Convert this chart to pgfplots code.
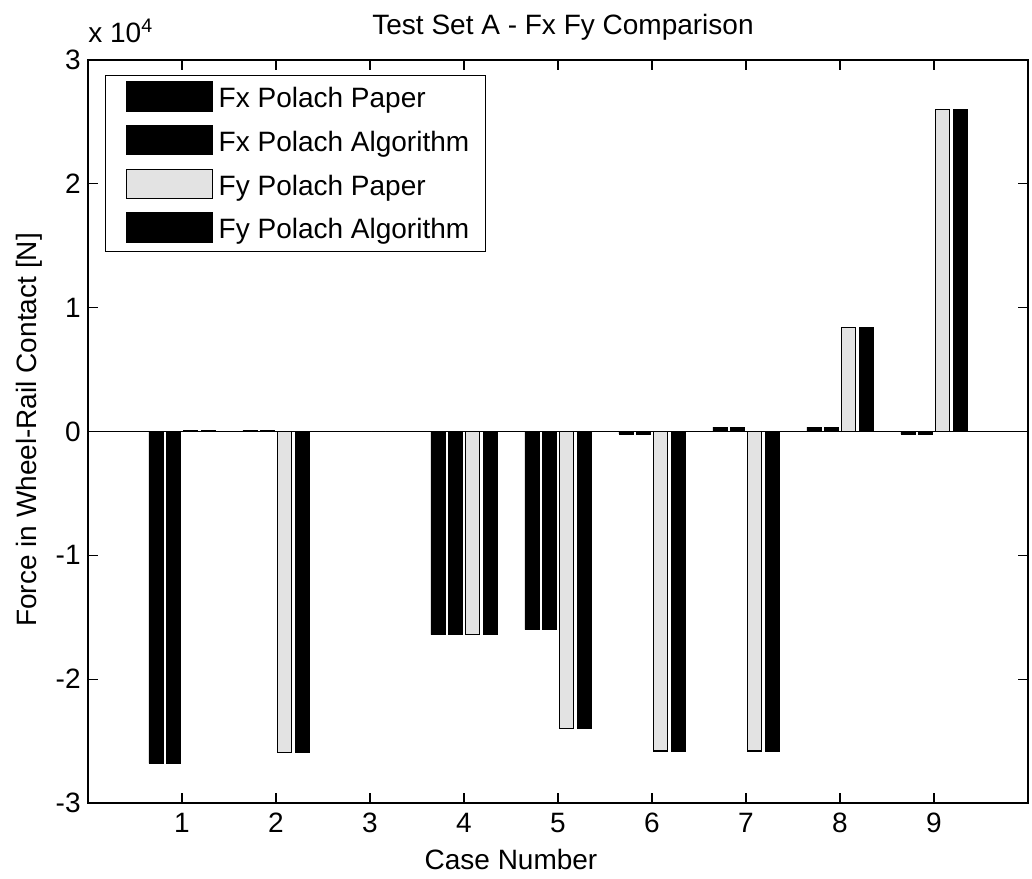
\documentclass[border=0pt]{standalone}
\usepackage{fontspec}
\setmainfont{Liberation Sans}
\usepackage{pgfplots}
\pgfplotsset{compat=1.18}
\begin{document}
\begin{tikzpicture}
\path[use as bounding box] (0,0) rectangle (516pt,439pt);
\begin{axis}[
  at={(44pt,37.5pt)}, anchor=south west,
  scale only axis, width=470pt, height=371.5pt,
  xmin=0, xmax=10, ymin=-30000, ymax=30000,
  xtick={1,2,3,4,5,6,7,8,9},
  ytick={-30000,-20000,-10000,0,10000,20000,30000},
  yticklabels={-3,-2,-1,0,1,2,3},
  scaled y ticks=false,
  tick align=inside, tick pos=both,
  major tick length=5pt,
  axis line style={line width=0.6pt},
  every tick/.style={line width=0.6pt, black},
  font=\fontsize{14}{16}\selectfont,
  /pgf/number format/assume math mode=true,
  xticklabel style={inner sep=0pt, yshift=-5pt},
  yticklabel style={inner sep=0pt, xshift=-3.5pt},
  legend style={at={(axis description cs:0.018,0.98)}, anchor=north west,
    draw=black, line width=0.6pt, inner xsep=6pt, inner ysep=3pt,
    nodes={inner sep=2pt, font=\fontsize{14}{16}\selectfont},
    row sep=5.2pt, column sep=1pt},
  legend cell align=left,
  legend image code/.code={\path (0pt,0pt); \draw[#1] (4pt,-6pt) rectangle (47pt,8.5pt);},
]
\addplot[forget plot, black, line width=0.6pt] coordinates {(0,0) (10,0)};
\addplot[ybar, bar width=0.149, bar shift=-0.277, fill=black, draw=black] coordinates {
(1,-26800) (2,100) (3,0) (4,-16400) (5,-16000) (6,-200) (7,350) (8,350) (9,-200)};
\addplot[ybar, bar width=0.149, bar shift=-0.092, fill=black, draw=black] coordinates {
(1,-26800) (2,100) (3,0) (4,-16400) (5,-16000) (6,-200) (7,350) (8,350) (9,-200)};
\addplot[ybar, bar width=0.149, bar shift=0.092, fill=black!11, draw=black, line width=0.6pt] coordinates {
(1,100) (2,-25900) (3,0) (4,-16400) (5,-24000) (6,-25800) (7,-25800) (8,8400) (9,26000)};
\addplot[ybar, bar width=0.149, bar shift=0.277, fill=black, draw=black] coordinates {
(1,100) (2,-25900) (3,0) (4,-16400) (5,-24000) (6,-25800) (7,-25800) (8,8400) (9,26000)};
\legend{Fx Polach Paper, Fx Polach Algorithm, Fy Polach Paper, Fy Polach Algorithm}
\end{axis}
\node[anchor=base west, inner sep=0pt, font=\fontsize{14}{16}\selectfont] at (44pt,417.5pt) {x 10\textsuperscript{4}};
\node[anchor=base, inner sep=0pt, font=\fontsize{14}{16}\selectfont] at (281.5pt,421.5pt) {Test Set A - Fx Fy Comparison};
\node[anchor=base, inner sep=0pt, font=\fontsize{14}{16}\selectfont] at (255.5pt,4.5pt) {Case Number};
\node[anchor=base, rotate=90, inner sep=0pt, font=\fontsize{14}{16}\selectfont] at (18pt,224pt) {Force in Wheel-Rail Contact [N]};
\end{tikzpicture}
\end{document}
